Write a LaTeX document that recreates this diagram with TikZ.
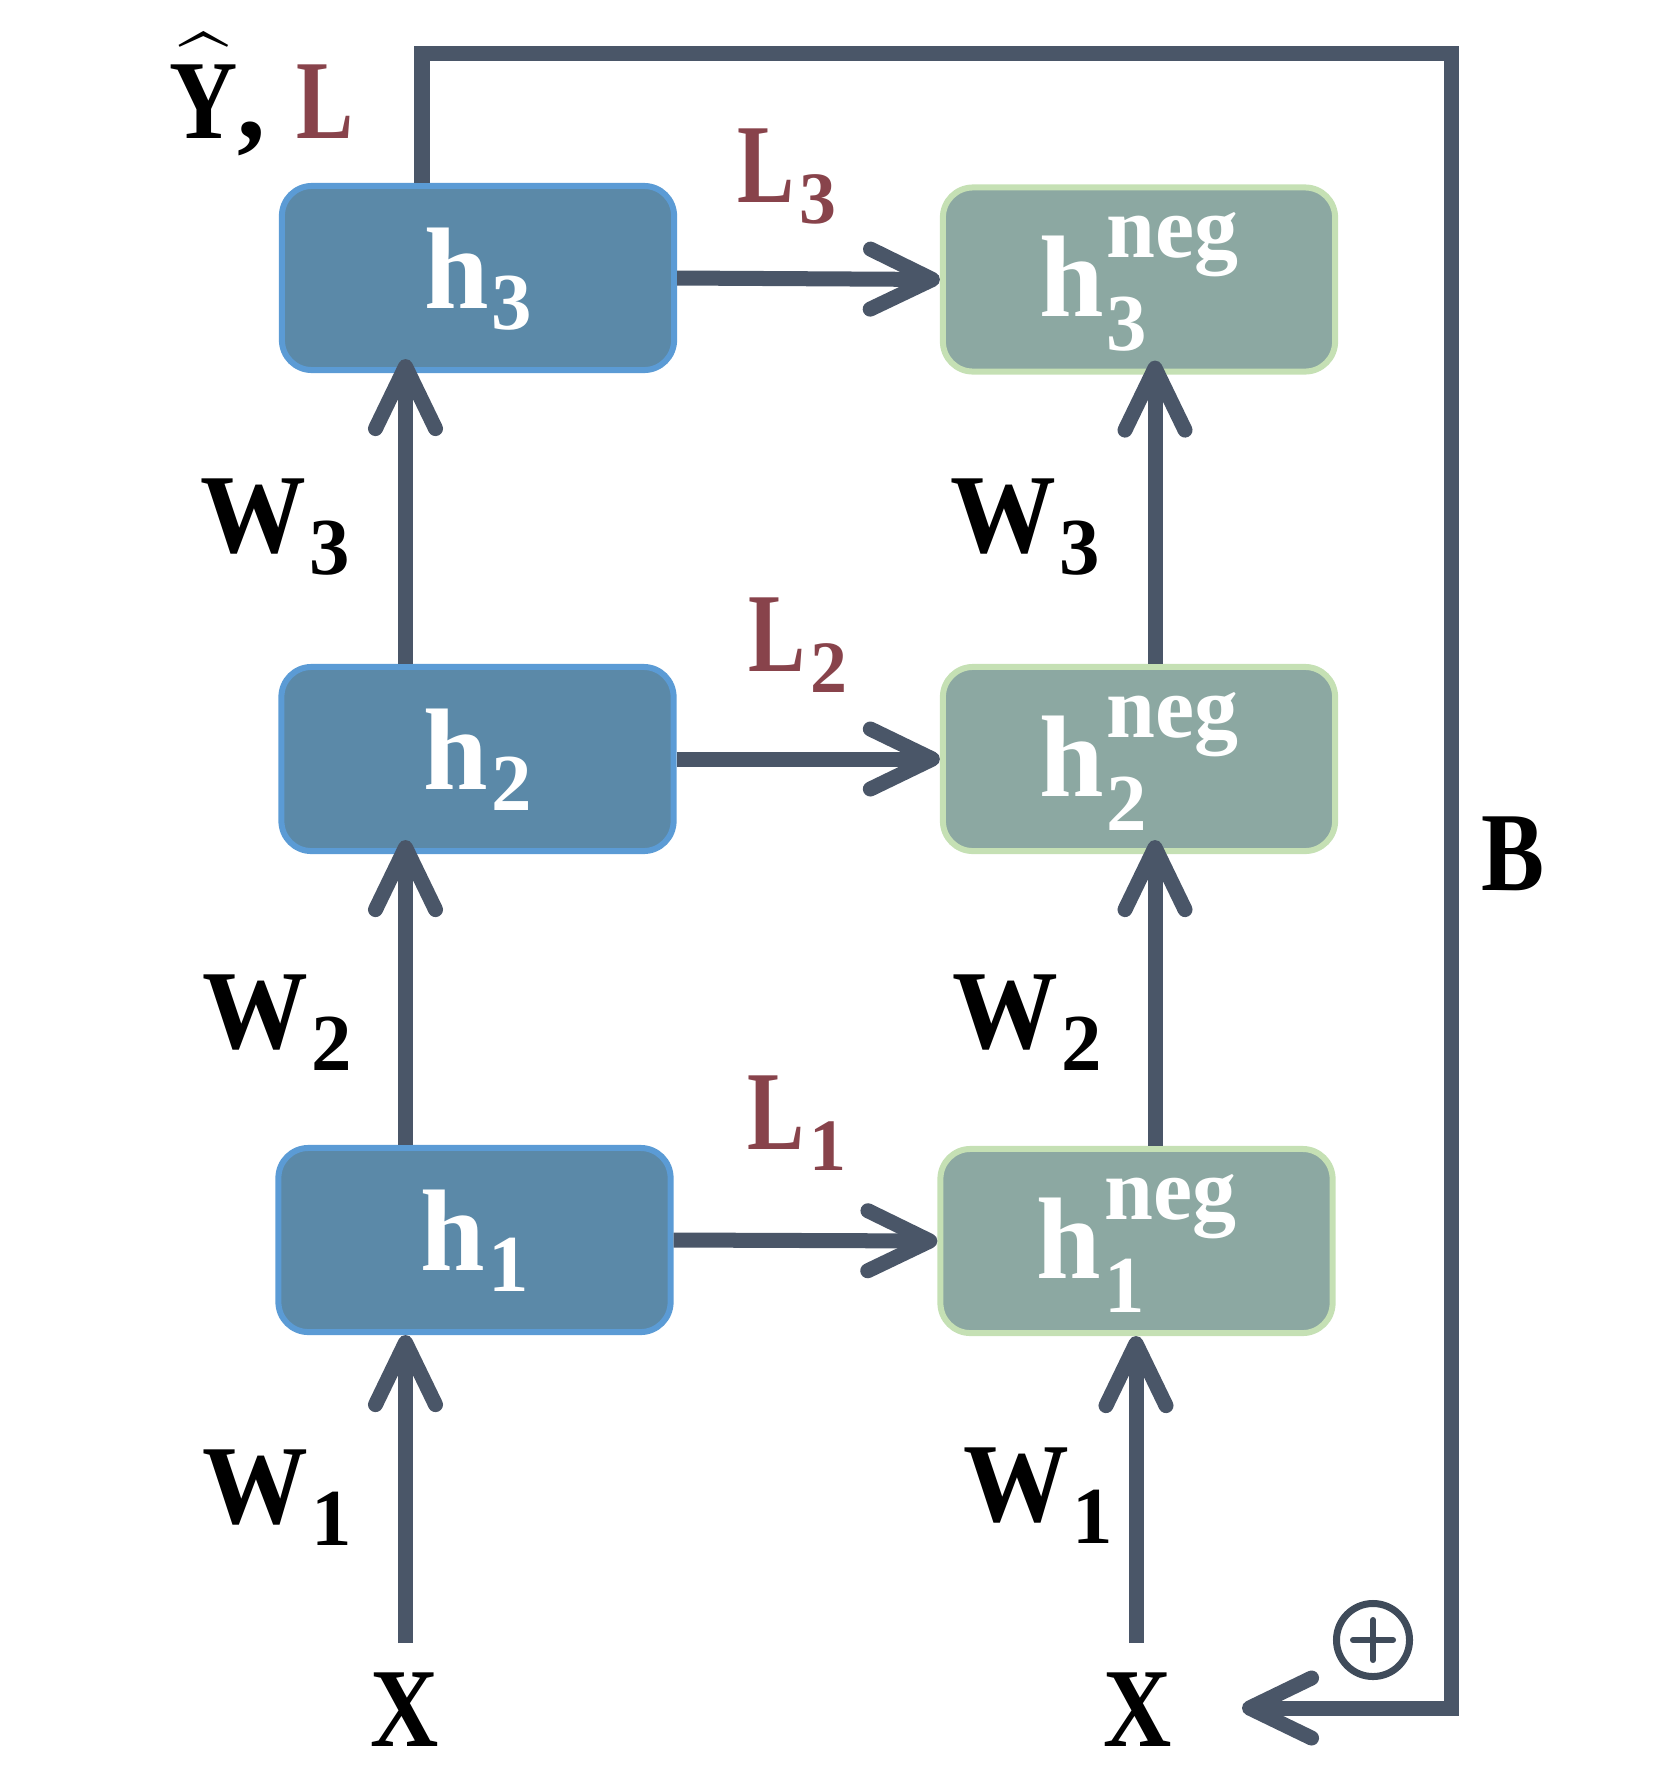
\documentclass[tikz,border=0pt]{standalone}
\usepackage{amsmath}
\usepackage{fontspec}
\setmainfont{Liberation Serif}
\newfontfamily\wfont{Liberation Serif}[FakeStretch=0.94]
\newfontfamily\capfont{Liberation Serif}[FakeStretch=0.84]
\newfontfamily\lfont{Liberation Serif}[FakeStretch=0.76]
\usetikzlibrary{arrows.meta}
\definecolor{lnc}{HTML}{4A5668}
\definecolor{bfill}{HTML}{5B89A8}
\definecolor{bdraw}{HTML}{5B9BD5}
\definecolor{gfill}{HTML}{8CA8A2}
\definecolor{gdraw}{HTML}{C5E0B4}
\definecolor{lred}{HTML}{88434B}
\definecolor{plusc}{HTML}{3F4B5A}
\newcommand\mainfs{\fontsize{32pt}{32pt}\selectfont\bfseries}
\newcommand\subfs{\normalfont\fontsize{23pt}{23pt}\selectfont\bfseries}
\newcommand\labsub[1]{{\wfont W}\kern0.03cm\raisebox{-0.22cm}{\subfs #1}}
\newcommand\losssub[1]{{\lfont L}\kern0.05cm\raisebox{-0.21cm}{\normalfont\fontsize{21pt}{21pt}\selectfont\bfseries #1}}
\newcommand\hsub[1]{h\kern0.03cm\raisebox{-0.21cm}{\subfs #1}}
\newcommand\hneg[1]{h\kern0.03cm\rlap{\raisebox{-0.34cm}{\subfs #1}}\raisebox{0.59cm}{\fontsize{25pt}{25pt}\selectfont neg}}
\tikzset{
  box/.style={rounded corners=0.3cm, line width=0.06cm, outer sep=0.03cm, inner sep=0pt,
    minimum width=3.92cm, minimum height=1.84cm, text=white,
    font=\fontsize{33pt}{33pt}\selectfont\bfseries},
  posbox/.style={box, fill=bfill, draw=bdraw, text height=0.8cm, text depth=0.2cm},
  negbox/.style={box, fill=gfill, draw=gdraw, text height=1.0cm, text depth=0.26cm},
  arr/.style={line width=0.15cm, draw=lnc, -{Straight Barb[length=0.62cm,width=0.6cm,round]}},
  lab/.style={inner sep=0pt, anchor=base west, font=\mainfs},
  loss/.style={lab, text=lred},
}
\begin{document}
\begin{tikzpicture}[x=0.01cm,y=-0.01cm]
\useasboundingbox (0,0) rectangle (1659,1772);
% boxes
\node[posbox] (h3) at (478,278) {\hsub{3}};
\node[posbox] (h2) at (477.5,759) {\hsub{2}};
\node[posbox] (h1) at (474.5,1240) {\hsub{1}};
\node[negbox] (n3) at (1139,279.5) {\hneg{3}};
\node[negbox] (n2) at (1139,759) {\hneg{2}};
\node[negbox] (n1) at (1136.5,1241) {\hneg{1}};
% coordinates
\coordinate (xl) at (405.5,1643);
\coordinate (xr) at (1136,1643);
\coordinate (cl) at (405.5,0);
\coordinate (cr) at (1155,0);
\coordinate (fbtl) at (422,53);
\coordinate (fbtr) at (1451,53);
\coordinate (fbbr) at (1451,1708);
\coordinate (fbend) at (1242,1708);
% vertical arrows
\draw[arr] (xl) -- (xl |- h1.south);
\draw[arr, shorten >=-0.14cm] (cl |- h1.north) -- (cl |- h2.south);
\draw[arr, shorten >=-0.14cm] (cl |- h2.north) -- (cl |- h3.south);
\draw[arr] (xr) -- (xr |- n1.south);
\draw[arr, shorten >=-0.14cm] (cr |- n1.north) -- (cr |- n2.south);
\draw[arr, shorten >=-0.14cm] (cr |- n2.north) -- (cr |- n3.south);
% horizontal arrows
\draw[arr] (h3.east) -- (n3.west);
\draw[arr] (h2.east) -- (n2.west);
\draw[arr] (h1.east) -- (n1.west);
% feedback
\draw[arr] (fbtl |- h3.north) -- (fbtl) -- (fbtr) -- (fbbr) -- (fbend);
% labels
\node[lab] (yl) at (169,138) {$\widehat{\hbox{\mainfs\capfont\raisebox{0pt}[\dimexpr\height+0.05cm]{Y}}}$,\kern0.02cm\ \textcolor{lred}{\lfont L}};
\node[loss] (l3) at (737,202) {\losssub{3}};
\node[loss] (l2) at (748,671) {\losssub{2}};
\node[loss] (l1) at (747,1149) {\losssub{1}};
\node[lab] (w3l) at (200,552) {\labsub{3}};
\node[lab] (w2l) at (202,1048) {\labsub{2}};
\node[lab] (w1l) at (202,1523) {\labsub{1}};
\node[lab] (w3r) at (950,552) {\labsub{3}};
\node[lab] (w2r) at (952,1048) {\labsub{2}};
\node[lab] (w1r) at (963,1521) {\labsub{1}};
\node[lab] (bl) at (1481,890) {\capfont B};
\node[lab, anchor=base] (x1) at (405,1746) {\capfont X};
\node[lab, anchor=base] (x2) at (1138,1746) {\capfont X};
% plus symbol
\node[circle, draw=plusc, line width=0.07cm, minimum size=0.73cm, inner sep=0pt] (plus) at (1373,1640) {};
\draw[plusc, line width=0.06cm, line cap=round] ([xshift=-0.2cm]plus.center) -- ([xshift=0.2cm]plus.center);
\draw[plusc, line width=0.06cm, line cap=round] ([yshift=-0.2cm]plus.center) -- ([yshift=0.2cm]plus.center);
\end{tikzpicture}
\end{document}
